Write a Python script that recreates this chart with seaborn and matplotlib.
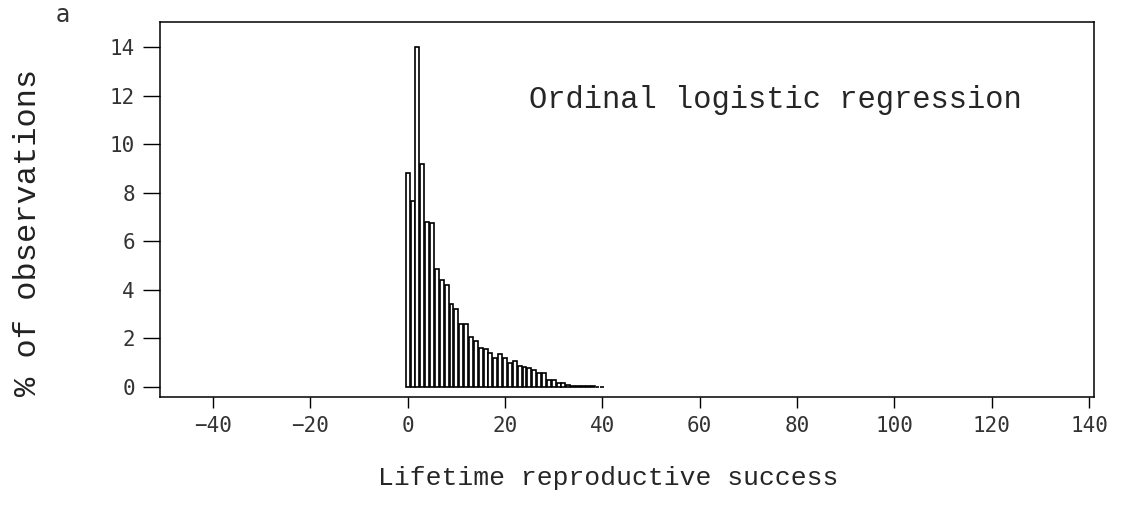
import numpy as np
import pandas as pd
import matplotlib
matplotlib.use("Agg")
import matplotlib.pyplot as plt
import seaborn as sns

# Lifetime reproductive success categories and % of observations
lrs = list(range(0, 41))
pct = [8.8, 7.65, 14.0, 9.2, 6.8, 6.75, 4.87, 4.4, 4.2, 3.4,
       3.2, 2.6, 2.6, 2.05, 1.9, 1.6, 1.57, 1.4, 1.2, 1.37,
       1.2, 0.98, 1.09, 0.87, 0.82, 0.8, 0.7, 0.58, 0.58, 0.3,
       0.3, 0.15, 0.15, 0.08, 0.05, 0.04, 0.04, 0.03, 0.03, 0.0,
       0.02]
xticks = [-40, -20, 0, 20, 40, 60, 80, 100, 120, 140]
yticks = [0, 2, 4, 6, 8, 10, 12, 14]

df = pd.DataFrame({"lrs": lrs, "pct": pct})

sns.set_theme(style="white")
plt.rcParams["font.family"] = ["DejaVu Sans Mono", "DejaVu Sans"]

fig = plt.figure(figsize=(11.32, 5.11), dpi=100)
ax = fig.add_axes([0.1413, 0.2231, 0.9664 - 0.1413, 0.957 - 0.2231])

sns.histplot(data=df, x="lrs", weights="pct", discrete=True, shrink=0.8,
             color="white", edgecolor="black", linewidth=1.2, alpha=1,
             ax=ax)

ax.set_xlim(-50.9, 141)
ax.set_ylim(-0.41, 15.03)
ax.set_xticks(xticks)
ax.set_yticks(yticks)
ax.set_xticklabels([str(t).replace("-", "\u2212") for t in xticks])
ax.tick_params(axis="x", bottom=True, direction="out", length=8, width=1,
               pad=6, labelsize=15, colors="black", labelcolor="#333333")
ax.tick_params(axis="y", left=True, direction="out", length=12, width=1,
               pad=6, labelsize=15, colors="black", labelcolor="#333333")
for s in ax.spines.values():
    s.set_visible(True)
    s.set_color("black")
    s.set_linewidth(1.1)

ax.set_xlabel("Lifetime reproductive success", family="Liberation Mono",
              fontsize=19)
ax.xaxis.set_label_coords(0.48, -0.185)
ax.set_ylabel("% of observations", family="Liberation Mono",
              fontsize=23, color="#222222")
ax.yaxis.set_label_coords(-0.125, 0.44)
ax.text(0.395, 0.792, "Ordinal logistic regression", transform=ax.transAxes,
        family="Liberation Mono", fontsize=22, ha="left", va="center")
fig.text(63 / 1132, 1 - 15 / 511, "a", family="DejaVu Sans",
         fontsize=17, ha="center", va="center", color="#333333")

fig.savefig("out.png", dpi=100, facecolor="white")
